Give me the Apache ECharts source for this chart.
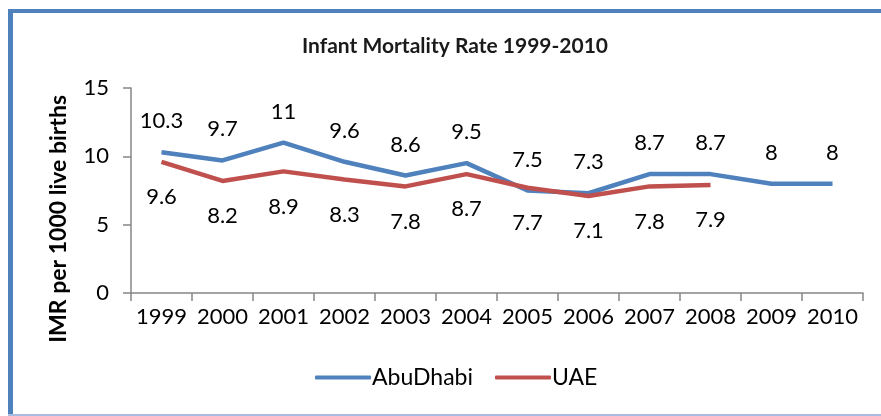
<!DOCTYPE html>
<html><head><meta charset="utf-8">
<script src="https://cdn.jsdelivr.net/npm/echarts@6/dist/echarts.min.js"></script>
<style>html,body{margin:0;padding:0;background:#fff;}#c{width:881px;height:416px;}</style>
</head><body><div id="c"></div>
<script>
const years = ['1999','2000','2001','2002','2003','2004','2005','2006','2007','2008','2009','2010'];
const abuDhabi = [10.3, 9.7, 11, 9.6, 8.6, 9.5, 7.5, 7.3, 8.7, 8.7, 8, 8];
const uae = [9.6, 8.2, 8.9, 8.3, 7.8, 8.7, 7.7, 7.1, 7.8, 7.9];
const yTicks = [0, 5, 10, 15];

const FONT = 'Lato';
const chart = echarts.init(document.getElementById('c'));
chart.setOption({
  animation: false,
  textStyle: {fontFamily: FONT, color: '#000'},
  title: {
    text: 'Infant Mortality Rate 1999-2010',
    left: 450, top: 31, textAlign: 'center',
    textStyle: {fontFamily: FONT, fontWeight: 'bold', fontSize: 21, color: '#1a1a1a'}
  },
  grid: {left: 131, right: 18, top: 88, bottom: 123},
  legend: {
    bottom: 22, left: 310,
    itemWidth: 56, itemHeight: 4, itemGap: 22,
    textStyle: {fontFamily: FONT, fontSize: 23, color: '#000', padding: [0,0,0,-4]},
    icon: 'roundRect',
    data: ['AbuDhabi', 'UAE']
  },
  xAxis: {
    type: 'category', data: years, boundaryGap: true,
    axisLine: {lineStyle: {color: '#868686', width: 1.5}},
    axisTick: {show: true, length: 8, lineStyle: {color: '#868686', width: 1.5}},
    axisLabel: {fontFamily: FONT, fontSize: 22, color: '#000', margin: 13, interval: 0}
  },
  yAxis: {
    type: 'value', min: yTicks[0], max: yTicks[yTicks.length-1], interval: 5,
    splitLine: {show: false},
    axisLine: {show: true, lineStyle: {color: '#868686', width: 1.5}},
    axisTick: {show: true, length: 8, lineStyle: {color: '#868686', width: 1.5}},
    axisLabel: {fontFamily: FONT, fontSize: 22, color: '#000', margin: 22}
  },
  graphic: [
    {type: 'rect', shape: {x: 8, y: 9, width: 5, height: 408}, style: {fill: '#4F81BD'}},
    {type: 'rect', shape: {x: 8, y: 9, width: 880, height: 4}, style: {fill: '#4F81BD'}},
    {type: 'rect', shape: {x: 8, y: 414, width: 880, height: 2}, style: {fill: '#a9bcdf'}},
    {type: 'text', left: 47, top: 95, rotation: Math.PI/2,
      style: {text: 'IMR per 1000 live births', fontFamily: FONT, fontWeight: 'bold', fontSize: 23, fill: '#000'}}
  ],
  series: [
    {name: 'AbuDhabi', type: 'line', data: abuDhabi, showSymbol: true, symbol: 'circle', symbolSize: 0.1,
      lineStyle: {color: '#4F81BD', width: 4.5}, itemStyle: {color: '#4F81BD'},
      label: {show: true, position: 'top', distance: 20, fontFamily: FONT, fontSize: 22, color: '#000'},
      z: 2},
    {name: 'UAE', type: 'line', data: uae, showSymbol: true, symbol: 'circle', symbolSize: 0.1,
      lineStyle: {color: '#C0504D', width: 4.5}, itemStyle: {color: '#C0504D'},
      label: {show: true, position: 'bottom', distance: 24, fontFamily: FONT, fontSize: 22, color: '#000'},
      z: 3}
  ]
});
</script></body></html>
